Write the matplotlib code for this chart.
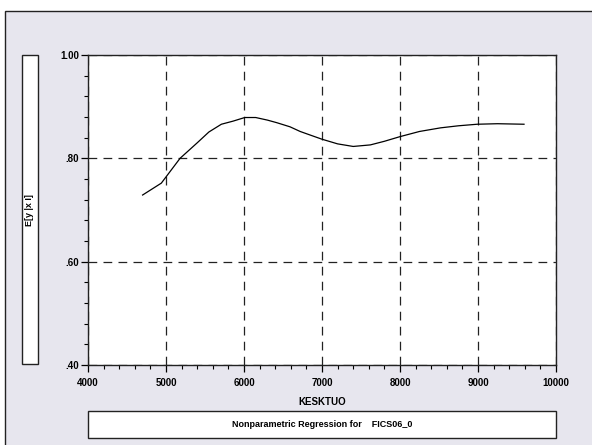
import matplotlib
matplotlib.use("Agg")
import matplotlib.pyplot as plt
from matplotlib.patches import Rectangle
from matplotlib.ticker import MultipleLocator, FixedLocator

# values
kesktuo = [4700, 4940, 5180, 5400, 5550, 5710, 5860, 6010, 6150, 6300, 6420, 6590, 6720,
           6850, 7000, 7200, 7400, 7620, 7800, 8000, 8250, 8520, 8750, 8990, 9250, 9590]
ey = [0.729, 0.752, 0.800, 0.830, 0.851, 0.866, 0.872, 0.879, 0.879, 0.874, 0.869, 0.861, 0.852,
      0.845, 0.837, 0.828, 0.823, 0.826, 0.833, 0.842, 0.852, 0.859, 0.863, 0.866, 0.867, 0.866]
x_ticks = [4000, 5000, 6000, 7000, 8000, 9000, 10000]
y_ticks = [0.40, 0.60, 0.80, 1.00]
y_tick_labels = [".40", ".60", ".80", "1.00"]

W, H = 592, 445
fig = plt.figure(figsize=(W / 100, H / 100), dpi=100)
fig.patch.set_facecolor("white")

def box(x0, y0, x1, y1):
    # pixel coordinates (top-left origin) -> figure fraction
    return [x0 / W, 1 - y1 / H, (x1 - x0) / W, (y1 - y0) / H]

# grey panel with border on left/top
bg = box(5, 11, 600, 450)
fig.patches.append(Rectangle((bg[0], bg[1]), bg[2], bg[3], transform=fig.transFigure,
                             facecolor="#e7e6ee", edgecolor="#222222", lw=1.0, zorder=-10))

font = {"family": ["Liberation Sans", "DejaVu Sans"], "weight": "bold"}

ax = fig.add_axes(box(88, 55, 556, 365))
ax.set_zorder(5)
ax.set_facecolor("white")
ax.plot(kesktuo, ey, color="black", lw=0.9)
ax.set_xlim(4000, 10000)
ax.set_ylim(0.40, 1.00)

ax.xaxis.set_major_locator(FixedLocator(x_ticks))
ax.xaxis.set_minor_locator(MultipleLocator(200))
ax.yaxis.set_major_locator(FixedLocator(y_ticks))
ax.yaxis.set_minor_locator(MultipleLocator(0.04))
ax.set_yticklabels(y_tick_labels)
ax.tick_params(which="major", length=5, width=0.9, pad=1.5, color="black")
ax.tick_params(which="minor", length=3, width=0.8, color="black")
ax.tick_params(axis="x", which="major", pad=4)
for lab in ax.get_xticklabels() + ax.get_yticklabels():
    lab.set_fontfamily(font["family"])
    lab.set_fontweight("bold")
    lab.set_fontsize(7)

ax.grid(True, which="major", color="#222222", lw=0.9, linestyle=(0, (7, 5)))
for sp in ax.spines.values():
    sp.set_linewidth(1.0)
    sp.set_color("#222222")

fig.text(322 / W, 1 - 402 / H, "KESKTUO", ha="center", va="center", fontsize=7, **font)

# y label box
yb = box(22, 55, 38, 364)
fig.patches.append(Rectangle((yb[0], yb[1]), yb[2], yb[3], transform=fig.transFigure,
                             facecolor="white", edgecolor="#222222", lw=1.0, zorder=1))
fig.text(30 / W, 1 - 210 / H, "E[y |x I]", rotation=90, ha="center", va="center",
         fontsize=6.5, zorder=2, **font)

# title box
tb = box(88, 411, 556, 438)
fig.patches.append(Rectangle((tb[0], tb[1]), tb[2], tb[3], transform=fig.transFigure,
                             facecolor="white", edgecolor="#222222", lw=1.0, zorder=1))
fig.text(322 / W, 1 - 424.5 / H, "Nonparametric Regression for    FICS06_0",
         ha="center", va="center", fontsize=6.5, zorder=2, **font)

fig.savefig("out.png", dpi=100)
